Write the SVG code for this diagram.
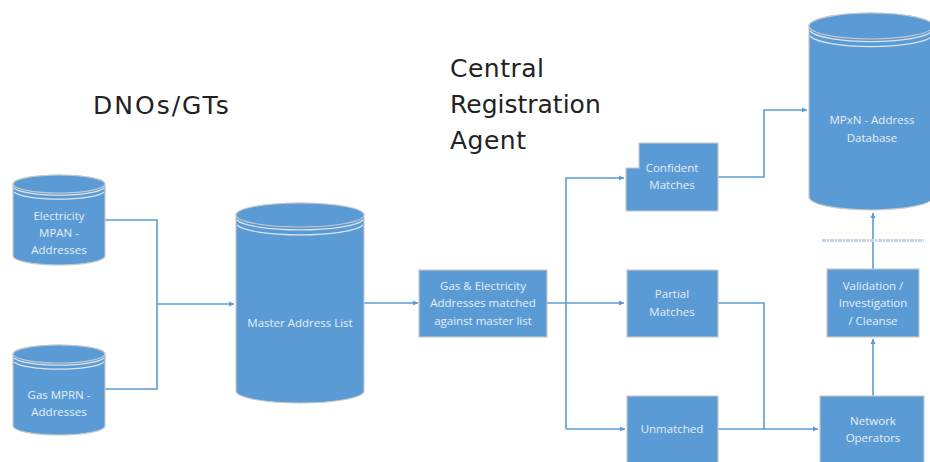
<svg xmlns="http://www.w3.org/2000/svg" width="930" height="462" viewBox="0 0 930 462">
<defs>
<marker id="arr" markerWidth="6" markerHeight="6" refX="5" refY="3" orient="auto" markerUnits="userSpaceOnUse">
<path d="M0,0.5 L5,3 L0,5.5 Z" fill="#5b9bd5"/>
</marker>
</defs>
<style>
.shape{fill:#5b9bd5;stroke:#c9c9c9;stroke-width:1.2}
.ring{fill:none;stroke:#dbe4ef;stroke-width:1.2}
.lbl{font-family:"Open Sans","Liberation Sans",sans-serif;font-size:11.5px;fill:#e6eef7;text-anchor:middle}
.title{font-family:"DejaVu Sans",sans-serif;font-size:25px;fill:#222}
.conn{fill:none;stroke:#5b9bd5;stroke-width:1.6}
</style>
<rect width="930" height="462" fill="#ffffff"/>

<text class="title" x="93" y="114" letter-spacing="2">DNOs/GTs</text>
<text class="title" x="450" y="77" letter-spacing="0.5">Central</text>
<text class="title" x="450" y="113">Registration</text>
<text class="title" x="450" y="149" letter-spacing="0.5">Agent</text>

<g id="connectors">
<path class="conn" d="M105,220 H157 V389 H105"/>
<path class="conn" d="M157,304 H234" marker-end="url(#arr)"/>
<path class="conn" d="M364,303 H418" marker-end="url(#arr)"/>
<path class="conn" d="M547,303 H624" marker-end="url(#arr)"/>
<path class="conn" d="M566,429 V178 H624" marker-end="url(#arr)"/>
<path class="conn" d="M566,429 H625" marker-end="url(#arr)"/>
<path class="conn" d="M718,177 H764 V110 H807" marker-end="url(#arr)"/>
<path class="conn" d="M718,303 H764 V429"/>
<path class="conn" d="M718,429 H818" marker-end="url(#arr)"/>
<path class="conn" d="M873,396 V339" marker-end="url(#arr)"/>
<path class="conn" d="M873,269 V213" marker-end="url(#arr)"/>
<line x1="822" y1="240.5" x2="924" y2="240.5" stroke="#c3d5ea" stroke-width="3" stroke-dasharray="4,1,2,1"/>
</g>

<g id="electricity">
<path class="shape" d="M13,184 V256 A46,9 0 0 0 105,256 V184 A46,9 0 0 0 13,184 Z"/>
<ellipse class="shape" cx="59" cy="184" rx="46" ry="9"/>
<path class="ring" d="M14,188 A46,9 0 0 0 104,188 M14,192 A46,9 0 0 0 104,192"/>
<text class="lbl" x="59" y="220">Electricity</text>
<text class="lbl" x="59" y="237">MPAN -</text>
<text class="lbl" x="59" y="254">Addresses</text>
</g>

<g id="gas">
<path class="shape" d="M13,354 V426 A46,9 0 0 0 105,426 V354 A46,9 0 0 0 13,354 Z"/>
<ellipse class="shape" cx="59" cy="354" rx="46" ry="9"/>
<path class="ring" d="M14,358 A46,9 0 0 0 104,358 M14,362 A46,9 0 0 0 104,362"/>
<text class="lbl" x="59" y="399">Gas MPRN -</text>
<text class="lbl" x="59" y="416">Addresses</text>
</g>

<g id="master">
<path class="shape" d="M236,215 V391 A64,12 0 0 0 364,391 V215 A64,12 0 0 0 236,215 Z"/>
<ellipse class="shape" cx="300" cy="215" rx="64" ry="12"/>
<path class="ring" d="M237,220 A64,12 0 0 0 363,220 M237,225 A64,12 0 0 0 363,225"/>
<text class="lbl" x="300" y="327">Master Address List</text>
</g>

<g id="matching">
<rect class="shape" x="419" y="270" width="128" height="67"/>
<text class="lbl" x="483" y="290">Gas &amp; Electricity</text>
<text class="lbl" x="483" y="307">Addresses matched</text>
<text class="lbl" x="483" y="325">against master list</text>
</g>

<g id="confident">
<path class="shape" d="M639,143 H718 V211 H626 V168 H639 Z"/>
<text class="lbl" x="672" y="172">Confident</text>
<text class="lbl" x="672" y="189">Matches</text>
</g>

<g id="partial">
<rect class="shape" x="627" y="270" width="91" height="67"/>
<text class="lbl" x="672" y="298">Partial</text>
<text class="lbl" x="672" y="316">Matches</text>
</g>

<g id="unmatched">
<rect class="shape" x="627" y="396" width="91" height="70"/>
<text class="lbl" x="672" y="433">Unmatched</text>
</g>

<g id="mpxn">
<path class="shape" d="M809,26 V197 A62,13 0 0 0 933,197 V26 A62,13 0 0 0 809,26 Z"/>
<ellipse class="shape" cx="871" cy="26" rx="62" ry="13"/>
<path class="ring" d="M810,31 A62,13 0 0 0 932,31 M810,36 A62,13 0 0 0 932,36"/>
<text class="lbl" x="872" y="124">MPxN - Address</text>
<text class="lbl" x="872" y="142">Database</text>
</g>

<g id="validation">
<rect class="shape" x="827" y="269" width="92" height="68"/>
<text class="lbl" x="873" y="290">Validation /</text>
<text class="lbl" x="873" y="307">Investigation</text>
<text class="lbl" x="873" y="325">/ Cleanse</text>
</g>

<g id="network">
<rect class="shape" x="820" y="396" width="104" height="70"/>
<text class="lbl" x="873" y="425">Network</text>
<text class="lbl" x="873" y="442">Operators</text>
</g>
</svg>
